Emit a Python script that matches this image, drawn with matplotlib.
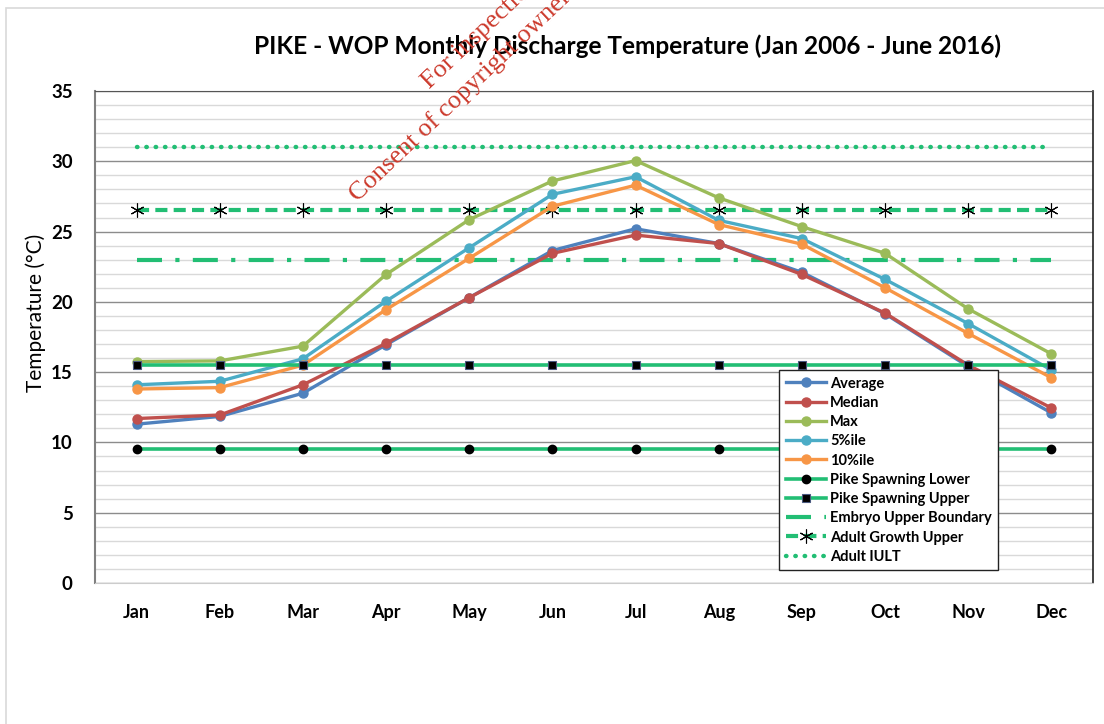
import matplotlib
matplotlib.use("Agg")
import matplotlib.pyplot as plt
from matplotlib.lines import Line2D
from matplotlib.patches import Rectangle

# Monthly discharge temperature statistics (deg C)
months = ["Jan", "Feb", "Mar", "Apr", "May", "Jun",
          "Jul", "Aug", "Sep", "Oct", "Nov", "Dec"]
average = [11.3, 11.85, 13.5, 16.95, 20.3, 23.65, 25.2, 24.15, 22.1, 19.15, 15.4, 12.1]
median = [11.7, 11.95, 14.1, 17.05, 20.3, 23.45, 24.75, 24.15, 21.95, 19.2, 15.5, 12.45]
maximum = [15.75, 15.8, 16.85, 21.95, 25.85, 28.6, 30.05, 27.4, 25.35, 23.45, 19.5, 16.3]
pct5 = [14.1, 14.35, 15.95, 20.05, 23.85, 27.65, 28.9, 25.8, 24.5, 21.6, 18.45, 15.15]
pct10 = [13.8, 13.9, 15.5, 19.45, 23.1, 26.8, 28.3, 25.5, 24.1, 21.0, 17.75, 14.6]

# Pike thermal thresholds (deg C)
spawning_lower = [9.5] * 12
spawning_upper = [15.5] * 12
embryo_upper = [23.0] * 12
adult_growth_upper = [26.5] * 12
adult_iult = [31.0] * 12

title = "PIKE - WOP Monthly Discharge Temperature (Jan 2006 - June 2016)"
y_label = "Temperature (\u00b0C)"
y_ticks = [0, 5, 10, 15, 20, 25, 30, 35]

W, H = 1104, 724
fig = plt.figure(figsize=(W / 100, H / 100), dpi=100)
fig.patch.set_facecolor("white")

# outer chart frame
fig.add_artist(Rectangle((6 / W, -0.05), 1.2, 1 - 8 / H + 0.05,
                         transform=fig.transFigure, fill=False,
                         edgecolor="#d9d9d9", lw=1.2, zorder=0))

left, right, top, bottom = 95, 1093, 91, 583
ax = fig.add_axes([left / W, 1 - bottom / H, (right - left) / W, (bottom - top) / H])

x = list(range(len(months)))
green = "#22BE74"

dot_style = (0, (0.1, 2.0))
dashdot_style = (0, (6, 3.2, 1, 3.2))
dash_style = (0, (2.9, 1.5))
star = (6, 2, 0)

# threshold lines
ax.plot(x, adult_iult, color=green, lw=3.2, linestyle=dot_style,
        dash_capstyle="round", zorder=3)
ax.plot(x, embryo_upper, color=green, lw=3.0, linestyle=dashdot_style, zorder=3)
ax.plot(x, adult_growth_upper, color=green, lw=3.0, linestyle=dash_style,
        marker=star, markersize=10, markeredgecolor="black",
        markerfacecolor="black", markeredgewidth=0.8, zorder=4)
ax.plot(x, spawning_lower, color=green, lw=2.6, marker="o", markersize=6,
        markerfacecolor="black", markeredgecolor="black", zorder=3)

# monthly statistics
series = [
    (average, "#4F81BD", "Average"),
    (median, "#C0504D", "Median"),
    (maximum, "#9BBB59", "Max"),
    (pct5, "#4BACC6", "5%ile"),
    (pct10, "#F79646", "10%ile"),
]
handles = {}
for vals, col, lab in series:
    h, = ax.plot(x, vals, color=col, lw=2.4, marker="o", markersize=6.5,
                 markeredgecolor=col, markerfacecolor=col, zorder=5)
    handles[lab] = h

ax.plot(x, spawning_upper, color=green, lw=2.6, marker="s", markersize=6,
        markerfacecolor="black", markeredgecolor="#4a5a80", markeredgewidth=0.8,
        zorder=6)

ax.set_xlim(-0.5, len(months) - 0.5)
ax.set_ylim(0, 35)
ax.set_xticks(x)
ax.set_xticklabels(months)
ax.set_yticks(y_ticks)
ax.set_yticks(range(0, 36), minor=True)
ax.grid(which="minor", axis="y", color="#d9d9d9", lw=1.0, zorder=0)
ax.grid(which="major", axis="y", color="#8c8c8c", lw=1.0, zorder=1)
ax.set_axisbelow(True)
ax.tick_params(which="both", length=0)
ax.tick_params(axis="x", pad=15)
ax.tick_params(axis="y", pad=16)

tick_font = ["Lato", "DejaVu Sans"]
for lbl in ax.get_xticklabels():
    lbl.set_fontfamily(tick_font)
    lbl.set_fontweight("bold")
    lbl.set_fontsize(13)
for lbl in ax.get_yticklabels():
    lbl.set_fontfamily(tick_font)
    lbl.set_fontweight("bold")
    lbl.set_fontsize(13.5)

ax.spines["left"].set_color("#808080")
ax.spines["left"].set_linewidth(1.5)
ax.spines["top"].set_color("#555555")
ax.spines["right"].set_color("#222222")
ax.spines["right"].set_linewidth(1.2)
ax.spines["bottom"].set_color("#cccccc")

fig.text(36 / W, 1 - 313 / H, y_label, rotation=90, ha="center", va="center",
         fontsize=15, family=tick_font)

fig.text(628 / W, 1 - 46 / H, title, ha="center", va="center",
         fontsize=17.6, fontweight="bold", family=tick_font)

# legend
order = ["Average", "Median", "Max", "5%ile", "10%ile"]
leg_handles = [handles[k] for k in order]
leg_handles += [
    Line2D([], [], color=green, lw=2.6, marker="o", markersize=6,
           markerfacecolor="black", markeredgecolor="black"),
    Line2D([], [], color=green, lw=2.6, marker="s", markersize=6,
           markerfacecolor="black", markeredgecolor="#4a5a80", markeredgewidth=0.8),
    Line2D([], [], color=green, lw=3.0, linestyle=dashdot_style),
    Line2D([], [], color=green, lw=3.0, linestyle=dash_style,
           marker=star, markersize=10, markeredgecolor="black",
           markerfacecolor="black", markeredgewidth=0.8),
    Line2D([], [], color=green, lw=3.2, linestyle=dot_style,
           dash_capstyle="round"),
]
leg_labels = order + ["Pike Spawning Lower", "Pike Spawning Upper",
                      "Embryo Upper Boundary", "Adult Growth Upper", "Adult IULT"]
leg = fig.legend(leg_handles, leg_labels, loc="upper left",
                 bbox_to_anchor=(779 / W, 1 - 370 / H), borderaxespad=0,
                 prop={"family": tick_font, "weight": "bold", "size": 10.5},
                 handlelength=2.8, handletextpad=0.25, labelspacing=0.36,
                 borderpad=0.45, fancybox=False, framealpha=1,
                 edgecolor="#222222")
leg.get_frame().set_linewidth(1.0)
leg.set_zorder(10)

# watermark
wm_color = "#cc3a2c"
wm_font = ["Liberation Serif", "DejaVu Serif"]
fig.text(358 / W, 1 - 202 / H,
         "Consent of copyright owner required for any other use.",
         rotation=43.5, rotation_mode="anchor", ha="left", va="baseline",
         fontsize=19, color=wm_color, family=wm_font, zorder=20)
fig.text(430 / W, 1 - 89 / H, "For inspection purposes only.",
         rotation=43.5, rotation_mode="anchor", ha="left", va="baseline",
         fontsize=19, color=wm_color, family=wm_font, zorder=20)

fig.savefig("out.png", dpi=100, facecolor="white")
